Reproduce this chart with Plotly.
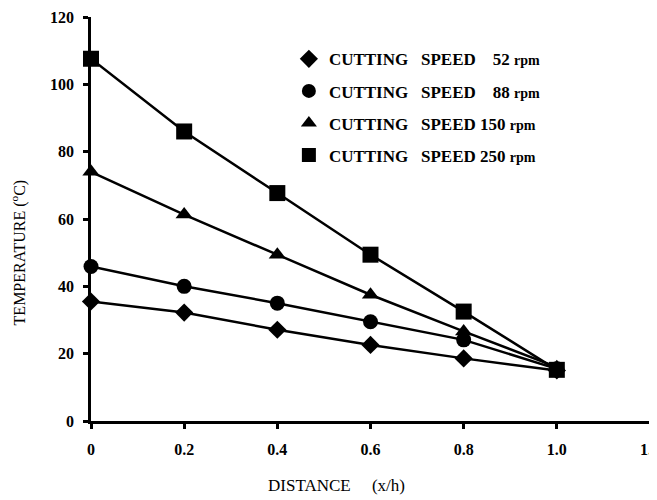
import plotly.graph_objects as go

distance = [0, 0.2, 0.4, 0.6, 0.8, 1.0]
temp_52 = [35.5, 32.2, 27.1, 22.6, 18.6, 15.0]
temp_88 = [45.9, 40.0, 35.0, 29.5, 24.1, 15.5]
temp_150 = [74.0, 61.3, 49.4, 37.5, 26.6, 16.0]
temp_250 = [107.6, 86.0, 67.7, 49.4, 32.5, 15.2]
speeds = ["52", "88", "150", "250"]
x_ticks = [0, 0.2, 0.4, 0.6, 0.8, 1.0, 1.2]
x_tick_labels = ["0", "0.2", "0.4", "0.6", "0.8", "1.0", "1.2"]
y_ticks = [0, 20, 40, 60, 80, 100, 120]

series = [temp_52, temp_88, temp_150, temp_250]
symbols = ["diamond", "circle", "triangle-up", "square"]
sizes = [14, 15, 15, 16]
NB = "\u00a0"

fig = go.Figure()
for s, vals, sym, sz in zip(speeds, series, symbols, sizes):
    fig.add_trace(go.Scatter(
        x=distance, y=vals, mode="lines+markers",
        line=dict(color="black", width=2.5),
        marker=dict(symbol=sym, size=sz, color="black"),
        showlegend=False, cliponaxis=False))

for s, sym in zip(speeds, symbols):
    pad = NB * 4 if len(s) == 2 else NB
    label = ("CUTTING" + NB * 3 + "SPEED" + pad + s + NB +
             "<span style='font-size:14px'>rpm</span>")
    fig.add_trace(go.Scatter(
        x=[None], y=[None], mode="markers", name=label,
        marker=dict(symbol=sym, size=14, color="black"),
        legendgroup=s, showlegend=True))

font_main = "Liberation Serif, Times New Roman, serif"

fig.update_layout(
    width=649, height=492,
    margin=dict(l=83, r=7, t=9, b=79, autoexpand=False),
    paper_bgcolor="white", plot_bgcolor="white",
    font=dict(family=font_main, color="black"),
    legend=dict(x=0.354, y=0.940, xanchor="left", yanchor="top",
                traceorder="grouped", tracegroupgap=7,
                font=dict(family=font_main, size=17, color="black",
                          weight="bold"),
                bgcolor="rgba(0,0,0,0)", itemwidth=30),
    xaxis=dict(range=[0, 1.2], tickvals=x_ticks, ticktext=x_tick_labels,
               showgrid=False, zeroline=False, showline=True,
               linecolor="black", linewidth=2.5, ticks="outside",
               ticklen=5, tickwidth=2.5, tickcolor="black",
               ticklabelstandoff=7, ticklabeloverflow="allow",
               automargin=False,
               tickfont=dict(family=font_main, size=16, weight="bold")),
    yaxis=dict(range=[0, 120], tickvals=y_ticks,
               showgrid=False, zeroline=False, showline=True,
               linecolor="black", linewidth=2.5, ticks="outside",
               ticklen=5, tickwidth=2.5, tickcolor="black",
               ticklabelstandoff=6, automargin=False,
               tickfont=dict(family=font_main, size=16, weight="bold")),
    annotations=[
        dict(text="DISTANCE" + NB * 5 + "(x/h)", xref="paper", yref="paper",
             x=0.44, y=-0.159, xanchor="center", yanchor="middle",
             showarrow=False, font=dict(family=font_main, size=17)),
        dict(text="TEMPERATURE (<sup>o</sup>C)", xref="paper", yref="paper",
             x=-0.129, y=0.417, xanchor="center", yanchor="middle",
             textangle=-90, showarrow=False,
             font=dict(family=font_main, size=16)),
    ],
)

fig.write_html("out.html")
